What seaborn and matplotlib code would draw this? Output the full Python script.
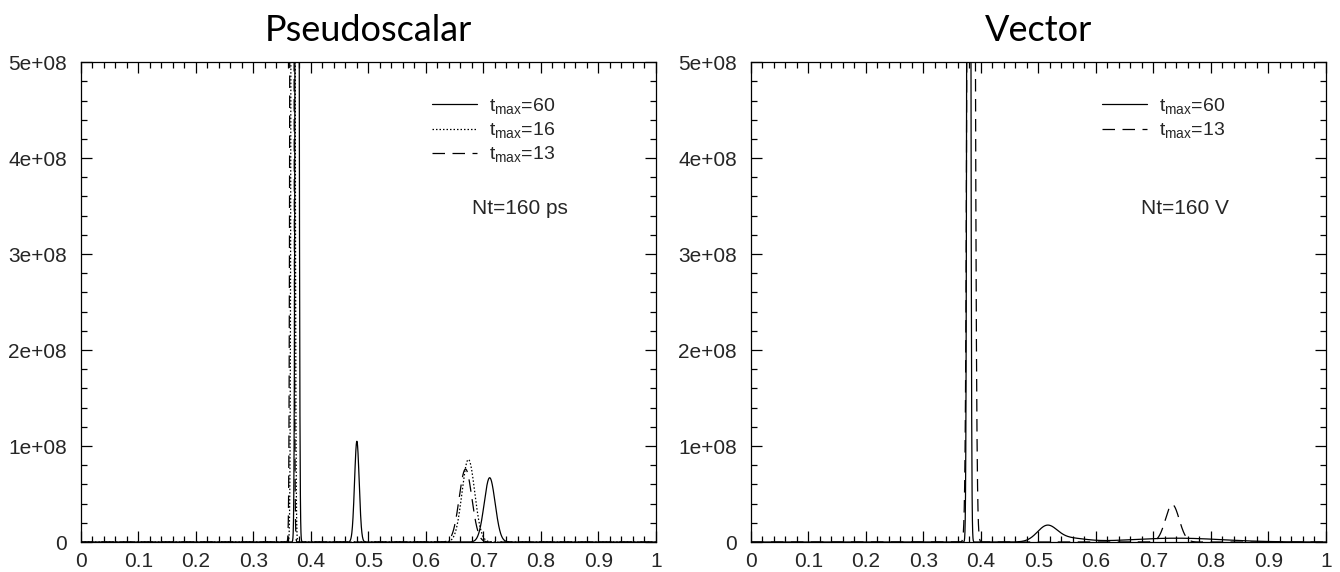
import numpy as np
import pandas as pd
import matplotlib
matplotlib.use("Agg")
import matplotlib.pyplot as plt
from matplotlib.ticker import MultipleLocator, FuncFormatter
import seaborn as sns

# Spectral functions are drawn as sums of peaks: (position, height, width)
ps_t60_pos = [0.376, 0.480, 0.711]
ps_t60_height = [3.0e9, 1.05e8, 6.7e7]
ps_t60_width = [0.0020, 0.0040, 0.0095]

ps_t16_pos = [0.369, 0.674]
ps_t16_height = [3.0e9, 8.6e7]
ps_t16_width = [0.0020, 0.0110]

ps_t13_pos = [0.367, 0.669]
ps_t13_height = [3.0e9, 7.6e7]
ps_t13_width = [0.0020, 0.0110]

v_t60_pos = [0.379, 0.515, 0.550, 0.740]
v_t60_height = [3.0e9, 1.55e7, 4.0e6, 4.0e6]
v_t60_width = [0.0020, 0.0170, 0.0300, 0.0800]

v_t13_pos = [0.383, 0.733]
v_t13_height = [3.0e9, 3.9e7]
v_t13_width = [0.0040, 0.0120]

omega = np.linspace(0.0, 1.0, 4001)


def spectrum(pos, height, width):
    rho = np.zeros_like(omega)
    for p, h, w in zip(pos, height, width):
        rho += h * np.exp(-0.5 * ((omega - p) / w) ** 2)
    return rho


panels = [
    ("Pseudoscalar", "Nt=160 ps", 0.763, [
        ("60", spectrum(ps_t60_pos, ps_t60_height, ps_t60_width), "-"),
        ("16", spectrum(ps_t16_pos, ps_t16_height, ps_t16_width), (0, (1.2, 1.6))),
        ("13", spectrum(ps_t13_pos, ps_t13_height, ps_t13_width), (0, (10, 6))),
    ]),
    ("Vector", "Nt=160 V", 0.755, [
        ("60", spectrum(v_t60_pos, v_t60_height, v_t60_width), "-"),
        ("13", spectrum(v_t13_pos, v_t13_height, v_t13_width), (0, (10, 6))),
    ]),
]

sns.set_style("ticks")
plt.rcParams["font.family"] = ["Liberation Sans", "DejaVu Sans"]
plt.rcParams["mathtext.fontset"] = "custom"
plt.rcParams["mathtext.rm"] = "Liberation Sans"

fig = plt.figure(figsize=(13.4, 5.72), dpi=100)
axes_rects = [[0.0604, 0.0524, 0.429, 0.839], [0.5604, 0.0524, 0.429, 0.839]]

for rect, (title, note, note_x, curves) in zip(axes_rects, panels):
    ax = fig.add_axes(rect)
    for tmax, rho, ls in curves:
        df = pd.DataFrame({"omega": omega, "rho": rho})
        sns.lineplot(data=df, x="omega", y="rho", ax=ax, color="black",
                     linewidth=0.9, linestyle=ls,
                     label=r"t$_{\rm max}$=" + tmax)
    ax.set_xlim(0, 1)
    ax.set_ylim(0, 5e8)
    ax.set_xlabel("")
    ax.set_ylabel("")
    ax.xaxis.set_major_locator(MultipleLocator(0.1))
    ax.xaxis.set_minor_locator(MultipleLocator(0.02))
    ax.yaxis.set_major_locator(MultipleLocator(1e8))
    ax.yaxis.set_minor_locator(MultipleLocator(2e7))
    ax.xaxis.set_major_formatter(FuncFormatter(lambda v, p: "0" if v == 0 else ("1" if abs(v - 1) < 1e-9 else f"{v:.1f}")))
    ax.yaxis.set_major_formatter(FuncFormatter(lambda v, p: "0" if v == 0 else f"{v:.0e}"))
    ax.tick_params(which="both", direction="in", top=True, right=True,
                   labelsize=15, width=0.9, color="black")
    ax.tick_params(which="major", length=8)
    ax.tick_params(which="minor", length=4)
    ax.tick_params(axis="x", which="major", pad=7)
    ax.tick_params(axis="y", which="major", pad=10)
    for s in ax.spines.values():
        s.set_linewidth(0.9)
        s.set_color("black")
    ax.set_title(title, fontsize=26, family=["Lato", "DejaVu Sans"],
                 color="black", pad=15)
    ax.legend(loc="upper right", bbox_to_anchor=(0.838, 0.945), frameon=False,
              fontsize=14, handlelength=2.3, handletextpad=0.6,
              labelspacing=0.2, borderaxespad=0)
    ax.text(note_x, 0.696, note, transform=ax.transAxes, fontsize=15,
            ha="center", va="center")

fig.savefig("out.png", dpi=100)
